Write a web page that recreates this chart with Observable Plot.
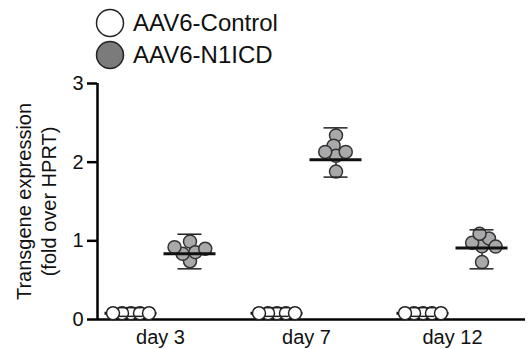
<!DOCTYPE html>
<html><head><meta charset="utf-8">
<script src="https://cdn.jsdelivr.net/npm/d3@7"></script>
<script src="https://cdn.jsdelivr.net/npm/@observablehq/plot@0.6"></script>
<style>
body{margin:0;background:#fff;font-family:"Liberation Sans",Arial,sans-serif;}
#legend{position:relative;width:530px;height:70px;}
.item{position:absolute;left:95px;height:30px;display:flex;align-items:center;font-size:24px;color:#111;white-space:nowrap;}
.item svg{margin-right:8px;}
</style></head><body>
<div id="legend"></div>
<div id="chart"></div>
<script>
// ---- data ----
const days = ["day 3", "day 7", "day 12"];
const groups = ["AAV6-Control", "AAV6-N1ICD"];
const yTicks = [0, 1, 2, 3];
const yLabelLines = ["Transgene expression", "(fold over HPRT)"];

const controlDay3 = [0.08, 0.08, 0.08, 0.08, 0.08];
const controlDay7 = [0.08, 0.08, 0.08, 0.08, 0.08];
const controlDay12 = [0.08, 0.08, 0.08, 0.08, 0.08];
const n1icdDay3 = [0.99, 0.74, 0.835, 0.855, 0.90, 0.92];
const n1icdDay7 = [2.34, 2.21, 2.08, 1.88, 2.13, 2.13];
const n1icdDay12 = [0.93, 0.73, 0.975, 1.03, 1.09, 0.927];

const controlMean = [0.08, 0.08, 0.08];
const controlLow = [0.04, 0.04, 0.04];
const controlHigh = [0.15, 0.15, 0.15];
const n1icdMean = [0.835, 2.03, 0.91];
const n1icdLow = [0.644, 1.81, 0.644];
const n1icdHigh = [1.084, 2.436, 1.14];

const groupFill = ["#ffffff", "#a9a9ab"];
const legendFill = ["#ffffff", "#7b7b7b"];

// ---- layout constants (styles, not data) ----
const W = 530, H = 279, mL = 97, mR = 5, mT = 13, mB = 30;
const xRange = [160, 452];                 // pixel centres of first and last day
const pxPerX = (xRange[1] - xRange[0]) / (days.length - 1);
const pxPerY = (H - mB - mT) / 3;
const groupShift = 29.5 / pxPerX;           // half distance between the two groups
const meanHalf = 26 / pxPerX, capHalf = 12 / pxPerX;
const xFrameLeft = -(xRange[0] - mL) / pxPerX; // x value at the left edge of the frame
const tickLen = 10 / pxPerX, tickGap = 14 / pxPerX;
const R = 6.5;
const axisColor = "#000";
const axisWidth = 2.5;

// simple beeswarm: horizontal pixel offsets that keep circles from overlapping too much
function swarm(values, minDist) {
  const placed = [];
  return values.map(v => {
    const y = v * pxPerY;
    const cons = placed.filter(p => Math.abs(p.y - y) < minDist)
      .map(p => ({x: p.x, w: Math.sqrt(minDist * minDist - (p.y - y) ** 2)}));
    const cands = [0, ...cons.flatMap(c => [c.x - c.w, c.x + c.w])]
      .sort((a, b) => Math.abs(a) - Math.abs(b) || a - b);
    const x = cands.find(c => cons.every(k => Math.abs(c - k.x) >= k.w - 1e-6));
    placed.push({y, x});
    return x;
  });
}

// ---- tables ----
const controlSets = [controlDay3, controlDay7, controlDay12];
const n1icdSets = [n1icdDay3, n1icdDay7, n1icdDay12];
const points = [];
days.forEach((d, i) => {
  const oc = swarm(controlSets[i], 9);
  controlSets[i].forEach((v, k) => points.push({day: d, group: groups[0], value: v, x: i - groupShift + oc[k] / pxPerX}));
  const on = swarm(n1icdSets[i], 10.5);
  n1icdSets[i].forEach((v, k) => points.push({day: d, group: groups[1], value: v, x: i + groupShift + on[k] / pxPerX}));
});
const summary = days.flatMap((d, i) => [
  {day: d, group: groups[0], x: i - groupShift, mean: controlMean[i], lo: controlLow[i], hi: controlHigh[i]},
  {day: d, group: groups[1], x: i + groupShift, mean: n1icdMean[i], lo: n1icdLow[i], hi: n1icdHigh[i]}
]);
const ctrlSummary = summary.filter(d => d.group === groups[0]);
const nSummary = summary.filter(d => d.group === groups[1]);

// ---- legend ----
const legend = document.getElementById("legend");
groups.forEach((g, i) => {
  const div = document.createElement("div");
  div.className = "item";
  div.style.top = (8 + i * 32) + "px";
  div.innerHTML = `<svg width="30" height="30"><circle cx="15" cy="15" r="13.5" fill="${legendFill[i]}" stroke="#222" stroke-width="1.5"/></svg><span>${g}</span>`;
  legend.appendChild(div);
});

// ---- chart ----
const chart = Plot.plot({
  width: W, height: H,
  marginLeft: mL, marginRight: mR, marginTop: mT, marginBottom: mB,
  style: {fontFamily: "'Liberation Sans', Arial, sans-serif", fontSize: "20px", color: "#111", background: "#fff"},
  x: {domain: [0, days.length - 1], range: xRange, ticks: days.map((d, i) => i), tickFormat: i => days[i],
      tickSize: 0, tickPadding: 10, label: null},
  y: {domain: [0, 3], axis: null},
  marks: [
    // y axis: line, ticks, labels
    Plot.ruleX([xFrameLeft], {y1: 0, y2: 3, stroke: axisColor, strokeWidth: axisWidth}),
    Plot.ruleY(yTicks, {y: d => d, x1: xFrameLeft - tickLen, x2: xFrameLeft, stroke: axisColor, strokeWidth: axisWidth}),
    Plot.text(yTicks, {y: d => d, x: xFrameLeft - tickGap, text: d => String(d), textAnchor: "end", fontSize: 20, fill: "#111"}),
    // x axis line
    Plot.ruleY([0], {stroke: axisColor, strokeWidth: axisWidth}),
    Plot.text([yLabelLines.join("\n")], {
      text: d => d, frameAnchor: "left", textAnchor: "middle", rotate: -90, dx: -62,
      lineHeight: 1.25, fontSize: 20, fill: "#111"
    }),
    Plot.ruleX(summary, {x: "x", y1: "lo", y2: "hi", stroke: "#222", strokeWidth: 1.5}),
    Plot.ruleY(ctrlSummary, {x1: d => d.x - meanHalf, x2: d => d.x + meanHalf, y: "mean", stroke: "#111", strokeWidth: 3}),
    Plot.dot(points, {x: "x", y: "value", r: R,
      fill: d => groupFill[groups.indexOf(d.group)],
      stroke: d => d.group === groups[0] ? "#222" : "#333", strokeWidth: 1.5}),
    Plot.ruleY(summary, {x1: d => d.x - capHalf, x2: d => d.x + capHalf, y: "hi", stroke: "#222", strokeWidth: 1.5}),
    Plot.ruleY(summary, {x1: d => d.x - capHalf, x2: d => d.x + capHalf, y: "lo", stroke: "#222", strokeWidth: 1.5}),
    Plot.ruleY(nSummary, {x1: d => d.x - meanHalf, x2: d => d.x + meanHalf, y: "mean", stroke: "#111", strokeWidth: 3})
  ]
});
document.getElementById("chart").appendChild(chart);
</script>
</body></html>
